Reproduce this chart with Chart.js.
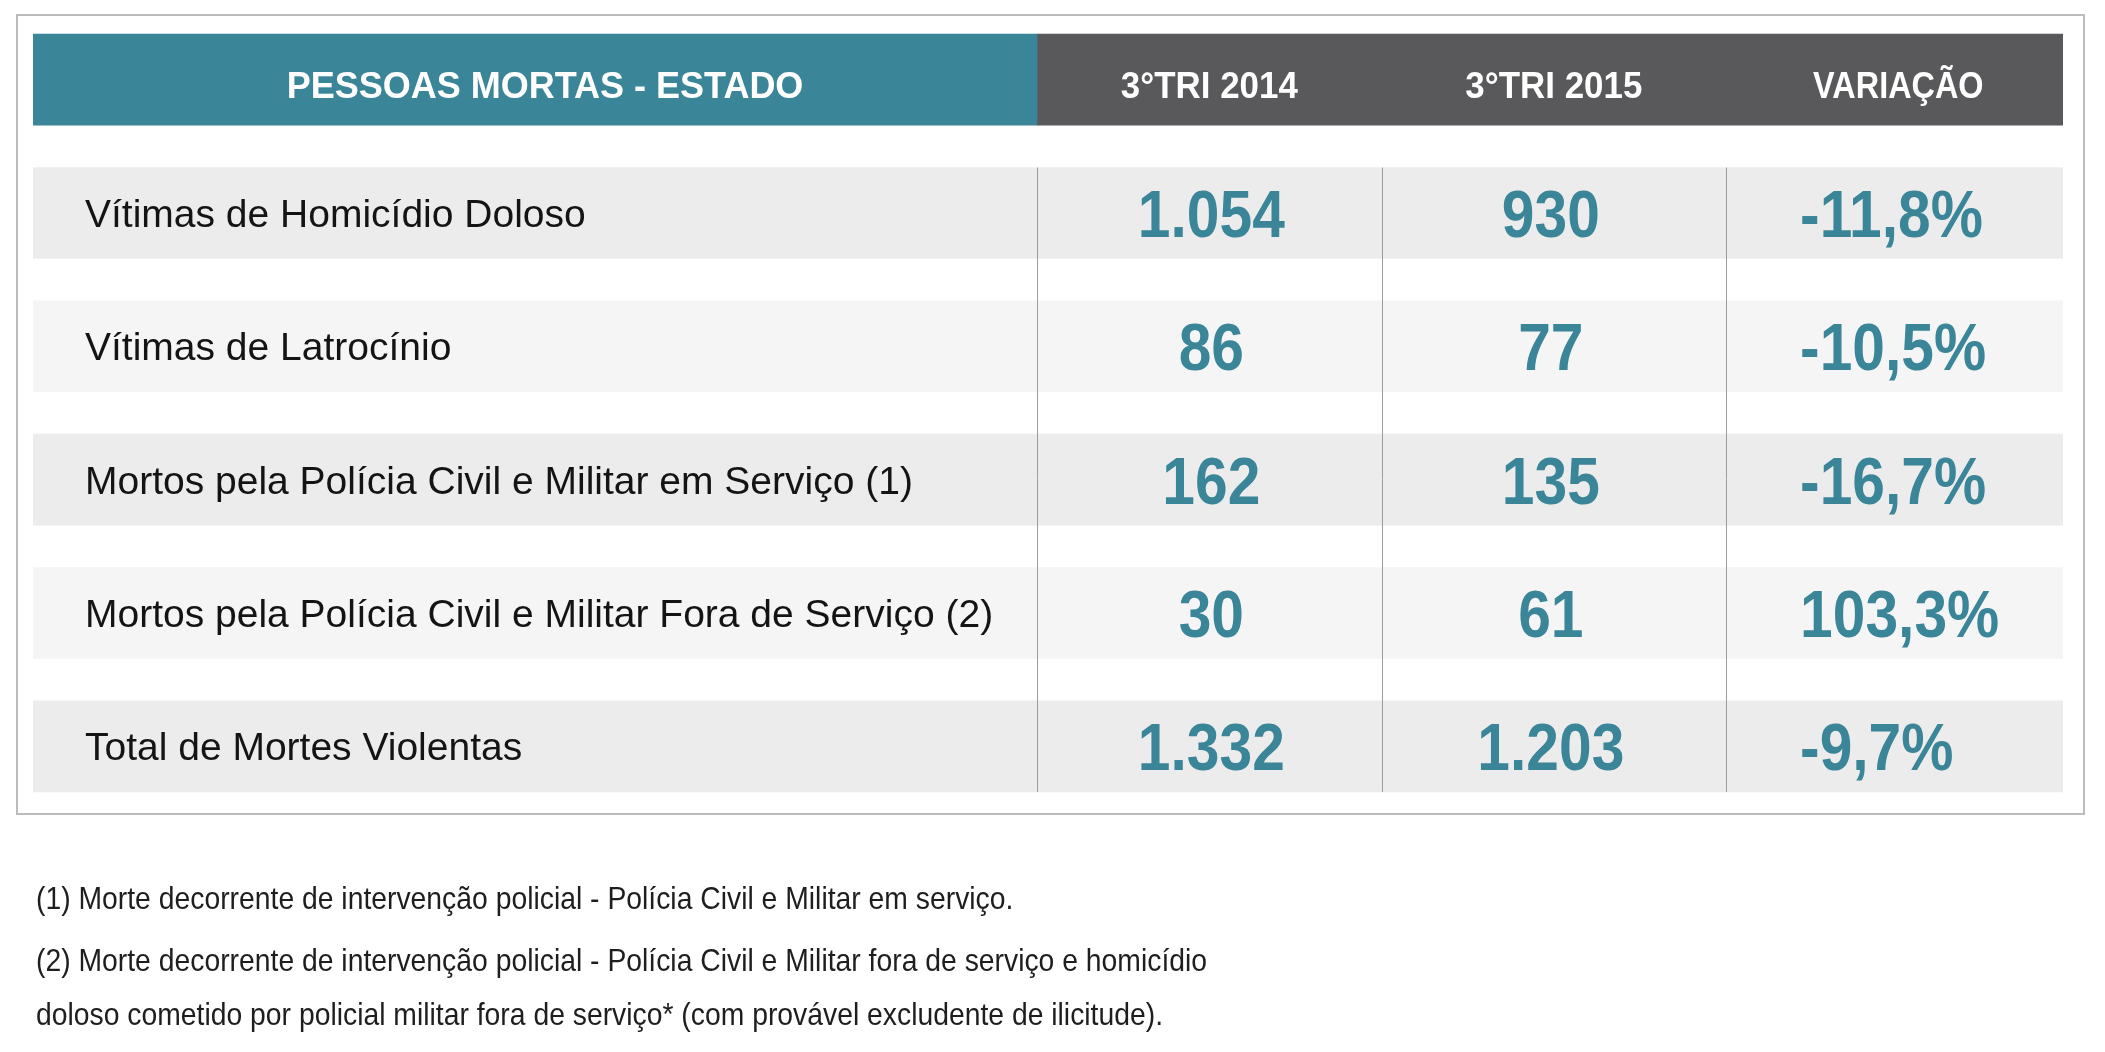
<!DOCTYPE html>
<html lang="pt-BR">
<head>
<meta charset="utf-8">
<title>Pessoas mortas - Estado</title>
<script src="https://cdn.jsdelivr.net/npm/chart.js@4.4.1/dist/chart.umd.min.js"></script>
<style>
  html, body { margin: 0; padding: 0; background: #ffffff; }
  canvas { display: block; }
</style>
</head>
<body>
<canvas id="tabela" width="2105" height="1052"></canvas>
<script>
// dados da tabela
const titulo = "PESSOAS MORTAS - ESTADO";
const colunas = ["3°TRI 2014", "3°TRI 2015", "VARIAÇÃO"];
const linhas = [
  "Vítimas de Homicídio Doloso",
  "Vítimas de Latrocínio",
  "Mortos pela Polícia Civil e Militar em Serviço (1)",
  "Mortos pela Polícia Civil e Militar Fora de Serviço (2)",
  "Total de Mortes Violentas"
];
const tri2014 = [1054, 86, 162, 30, 1332];
const tri2015 = [930, 77, 135, 61, 1203];
const variacao = [-11.8, -10.5, -16.7, 103.3, -9.7];
const notas = [
  "(1) Morte decorrente de intervenção policial - Polícia Civil e Militar em serviço.",
  "(2) Morte decorrente de intervenção policial - Polícia Civil e Militar fora de serviço e homicídio",
  "doloso cometido por policial militar fora de serviço* (com provável excludente de ilicitude)."
];

// cores
const azul = "#3b8599";
const cinzaEscuro = "#59595b";
const faixaEscura = "#ececec";
const faixaClara = "#f5f5f5";

function milhar(v) {
  return String(v).replace(/\B(?=(\d{3})+(?!\d))/g, ".");
}
function pct(v) {
  return v.toFixed(1).replace(".", ",") + "%";
}

function texto(ctx, str, x, y, font, cor, align, sx) {
  ctx.save();
  ctx.font = font;
  ctx.fillStyle = cor;
  ctx.textAlign = align;
  ctx.textBaseline = "alphabetic";
  ctx.translate(x, y);
  ctx.scale(sx, 1);
  ctx.fillText(str, 0, 0);
  ctx.restore();
}

// categorias do eixo y: cabeçalho + linhas
const categorias = [titulo].concat(linhas);
const nCol = colunas.length;
const inicioDados = 3; // a coluna de rótulos ocupa 3 unidades
const fim = inicioDados + nCol;

const fundoTitulo = categorias.map((c, i) => i === 0 ? [0, inicioDados] : null);
const fundoColunas = categorias.map((c, i) => i === 0 ? [inicioDados, fim] : null);
const fundoLinhas = categorias.map((c, i) => i === 0 ? null : [0, fim]);
const coresLinhas = categorias.map((c, i) => (i % 2 === 1) ? faixaEscura : faixaClara);

const tabelaPlugin = {
  id: "tabela",
  beforeDraw(chart) {
    const ctx = chart.ctx;
    ctx.save();
    ctx.fillStyle = "#ffffff";
    ctx.fillRect(0, 0, chart.width, chart.height);
    ctx.strokeStyle = "#bcbcbc";
    ctx.lineWidth = 2;
    ctx.strokeRect(17, 15, 2067, 799);
    ctx.restore();
  },
  afterDatasetsDraw(chart) {
    const ctx = chart.ctx;
    const x = chart.scales.x;
    const y = chart.scales.y;
    const meia = 45.5;

    // linhas verticais entre colunas
    ctx.save();
    ctx.strokeStyle = "#9c9c9c";
    ctx.lineWidth = 1;
    const topo = y.getPixelForValue(1) - meia;
    const base = y.getPixelForValue(linhas.length) + meia;
    for (let c = 0; c < nCol; c++) {
      const px = Math.round(x.getPixelForValue(inicioDados + c)) + 0.5;
      ctx.beginPath();
      ctx.moveTo(px, topo);
      ctx.lineTo(px, base);
      ctx.stroke();
    }
    ctx.restore();

    // cabeçalho
    const yCab = y.getPixelForValue(0) + 18;
    const centroTitulo = (x.left + x.getPixelForValue(inicioDados)) / 2 + 10;
    texto(ctx, titulo, centroTitulo, yCab, "bold 36px 'Liberation Sans', Arial, sans-serif", "#ffffff", "center", 1);
    colunas.forEach((col, c) => {
      const cx = x.getPixelForValue(inicioDados + c + 0.5);
      const sx = c === nCol - 1 ? 0.9 : 0.97;
      texto(ctx, col, cx, yCab, "bold 36px 'Liberation Sans', Arial, sans-serif", "#ffffff", "center", sx);
    });

    // linhas da tabela
    linhas.forEach((rot, i) => {
      const cy = y.getPixelForValue(i + 1);
      texto(ctx, rot, x.left + 52, cy + 14, "39px 'Liberation Sans', Arial, sans-serif", "#141414", "left", 1);
      const fonteNum = "bold 66px 'Liberation Sans', Arial, sans-serif";
      texto(ctx, milhar(tri2014[i]), x.getPixelForValue(inicioDados + 0.5) + 2, cy + 24, fonteNum, azul, "center", 0.89);
      texto(ctx, milhar(tri2015[i]), x.getPixelForValue(inicioDados + 1.5) - 3, cy + 24, fonteNum, azul, "center", 0.89);
      texto(ctx, pct(variacao[i]), x.getPixelForValue(inicioDados + 2) + 74, cy + 24, fonteNum, azul, "left", 0.89);
    });

    // notas de rodapé
    const baseNotas = [909, 971, 1025];
    notas.forEach((n, i) => {
      texto(ctx, n, 36, baseNotas[i], "32px 'Liberation Sans', Arial, sans-serif", "#1e1e1e", "left", 0.885);
    });
  }
};

new Chart(document.getElementById("tabela"), {
  type: "bar",
  data: {
    labels: categorias,
    datasets: [
      {
        label: "titulo",
        data: fundoTitulo,
        backgroundColor: azul,
        grouped: false,
        barThickness: 91
      },
      {
        label: "colunas",
        data: fundoColunas,
        backgroundColor: cinzaEscuro,
        grouped: false,
        barThickness: 91
      },
      {
        label: "linhas",
        data: fundoLinhas,
        backgroundColor: coresLinhas,
        grouped: false,
        barThickness: 91
      }
    ]
  },
  options: {
    indexAxis: "y",
    responsive: false,
    animation: false,
    devicePixelRatio: 1,
    layout: {
      padding: { left: 33, right: 42, top: 13, bottom: 239 }
    },
    scales: {
      x: { type: "linear", min: 0.0856, max: 5.978, display: false },
      y: { type: "category", display: false }
    },
    plugins: {
      legend: { display: false },
      tooltip: { enabled: false }
    }
  },
  plugins: [tabelaPlugin]
});
</script>
</body>
</html>
